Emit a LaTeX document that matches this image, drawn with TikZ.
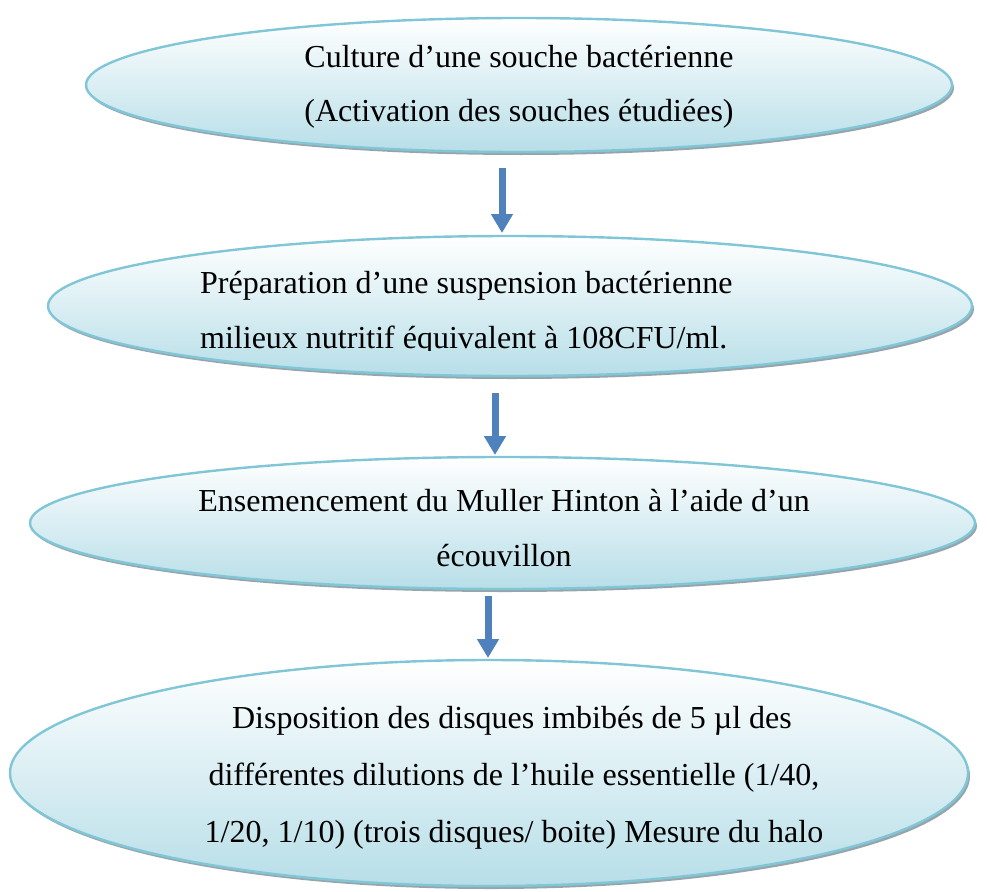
\documentclass[tikz,border=0pt]{standalone}
\usepackage{fontspec}
\setmainfont{Liberation Serif}
\usetikzlibrary{shapes.geometric,shadows,arrows.meta}
\definecolor{ellborder}{RGB}{128,198,214}
\definecolor{ellbottom}{RGB}{183,222,232}
\definecolor{shadowgrey}{RGB}{140,155,162}
\definecolor{arrowblue}{RGB}{79,129,189}
\tikzset{
  ell/.style={ellipse, inner sep=0pt, draw=ellborder, line width=2.4pt,
    top color=white, bottom color=ellbottom,
    drop shadow={shadow xshift=2pt, shadow yshift=-3pt, fill=shadowgrey, opacity=0.9}},
  txt/.style={inner sep=0pt, font=\fontsize{32}{55}\selectfont, text=black},
  flow/.style={draw=arrowblue, line width=7pt,
    -{Triangle[width=21pt,length=19pt]}, arrowblue}
}
\begin{document}
\begin{tikzpicture}[x=1pt,y=1pt]
\useasboundingbox (0,0) rectangle (987,-891);
% ellipses
\node[ell, minimum width=866pt, minimum height=134pt] (e1) at (519,-85) {};
\node[ell, minimum width=924pt, minimum height=140pt] (e2) at (510,-306) {};
\node[ell, minimum width=945pt, minimum height=132pt] (e3) at (502.5,-523) {};
\node[ell, minimum width=958pt, minimum height=226pt] (e4) at (489,-773) {};
% texts
\node[txt, anchor=base] (t1a) at (519,-67) {Culture d’une souche bactérienne};
\node[txt, anchor=base] (t1b) at (519,-121) {(Activation des souches étudiées)};
\begin{scope}
\clip (0,-230) rectangle (987,-350);
\node[txt, anchor=base west] (t2a) at (200,-293) {Préparation d’une suspension bactérienne};
\node[txt, anchor=base west] (t2b) at (200,-348) {milieux nutritif équivalent à 108CFU/ml.};
\end{scope}
\node[txt, anchor=base] (t3a) at (504,-511) {Ensemencement du Muller Hinton à l’aide d’un};
\node[txt, anchor=base] (t3b) at (504,-566) {écouvillon};
\node[txt, anchor=base] (t4a) at (512,-728) {Disposition des disques imbibés de 5 µl des};
\node[txt, anchor=base] (t4b) at (514,-785) {différentes dilutions de l’huile essentielle (1/40,};
\node[txt, anchor=base] (t4c) at (514,-842) {1/20, 1/10) (trois disques/ boite) Mesure du halo};
% arrows
\coordinate (a1s) at (502,-168);
\coordinate (a1e) at (502,-233);
\coordinate (a2s) at (495,-393);
\coordinate (a2e) at (495,-455);
\coordinate (a3s) at (488,-596);
\coordinate (a3e) at (488,-658);
\draw[flow] (a1s) -- (a1e);
\draw[flow] (a2s) -- (a2e);
\draw[flow] (a3s) -- (a3e);
\end{tikzpicture}
\end{document}
